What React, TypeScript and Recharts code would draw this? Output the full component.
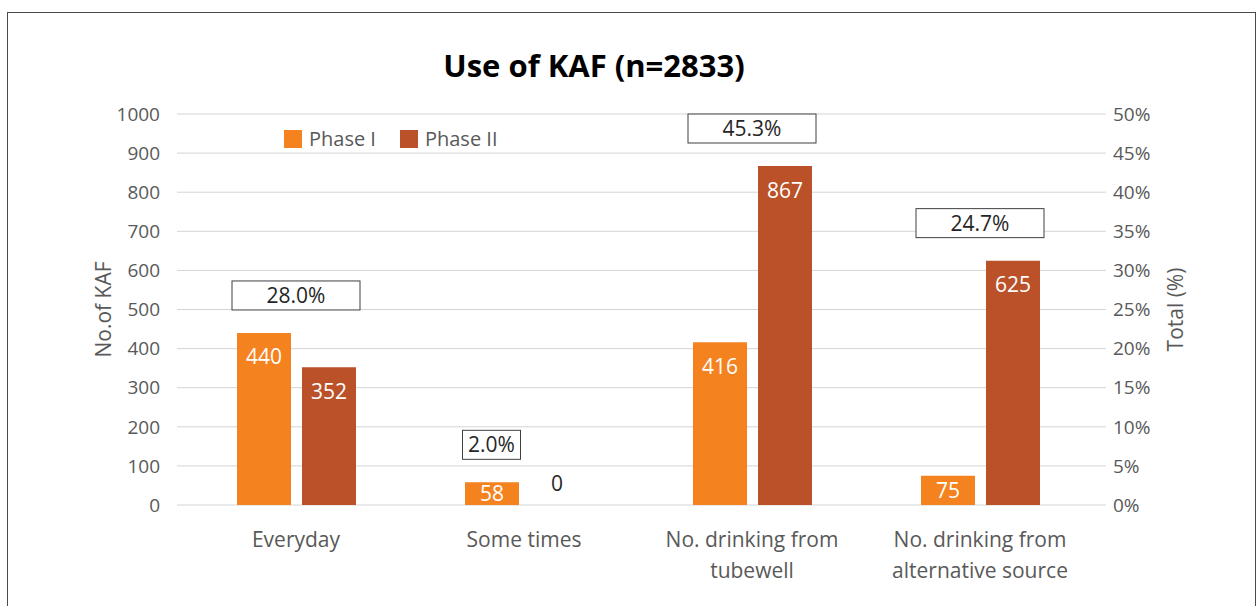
import {
  Bar,
  CartesianGrid,
  ComposedChart,
  LabelList,
  Legend,
  Line,
  XAxis,
  YAxis,
} from 'recharts';

const categories = [
  'Everyday',
  'Some times',
  'No. drinking from tubewell',
  'No. drinking from alternative source',
];
const phaseOne = [440, 58, 416, 75];
const phaseTwo = [352, 0, 867, 625];
const totalPct = [28.0, 2.0, 45.3, 24.7];
const countTicks = [0, 100, 200, 300, 400, 500, 600, 700, 800, 900, 1000];
const pctTicks = [0, 5, 10, 15, 20, 25, 30, 35, 40, 45, 50];

const ORANGE = '#F4821F';
const RUST = '#BB5128';
const GREY = '#595959';
const FONT = '"Open Sans", "Noto Sans", sans-serif';
const BAR_W = 54;
const BAR_GAP = 11;

const data = categories.map((name, i) => ({
  name,
  p1: phaseOne[i],
  p2: phaseTwo[i],
  pct: totalPct[i],
  peak: Math.max(phaseOne[i], phaseTwo[i]),
}));

function wrap(text: string, max = 18) {
  const lines: string[] = [];
  let cur = '';
  for (const w of text.split(' ')) {
    const next = cur ? cur + ' ' + w : w;
    if (next.length > max && cur) {
      lines.push(cur);
      cur = w;
    } else cur = next;
  }
  if (cur) lines.push(cur);
  return lines;
}

function CategoryTick({ x, y, payload }: any) {
  const lines = wrap(payload.value);
  return (
    <text x={x} y={y} textAnchor="middle" fill={GREY} fontSize={21}>
      {lines.map((l, i) => (
        <tspan key={i} x={x} y={y + 34 + i * 31}>
          {l}
        </tspan>
      ))}
    </text>
  );
}

function BarValue({ x, y, width, height, value }: any) {
  if (!value) return null;
  const mid = y + Math.min(24, height / 2);
  return (
    <text x={x + width / 2} y={mid + 7.5} textAnchor="middle" fill="#fff" fontSize={21}>
      {value}
    </text>
  );
}

// zero-height Phase II bars get no rect, so their "0" is drawn from the Phase I neighbour
function ZeroSibling({ x, y, width, height, value }: any) {
  if (value !== 0) return null;
  const cx = x + width + BAR_GAP + width / 2;
  const base = y + height;
  return (
    <text x={cx} y={base - 14} textAnchor="middle" fill="#262626" fontSize={21}>
      0
    </text>
  );
}

// percentage box sits above the taller bar of each group
function PctBox({ x, y, value, index }: any) {
  let shift = 0;
  if (phaseTwo[index] === 0) shift = -(BAR_W + BAR_GAP) / 2;
  else if (phaseOne[index] === 0) shift = (BAR_W + BAR_GAP) / 2;
  const w = value < 10 ? 58 : 128;
  const h = 29;
  const cx = x + shift;
  const top = y - 23 - h;
  return (
    <g>
      <rect x={cx - w / 2} y={top} width={w} height={h} fill="#fff" stroke="#404040" strokeWidth={1} />
      <text x={cx} y={top + h / 2 + 7.5} textAnchor="middle" fill="#262626" fontSize={21}>
        {value.toFixed(1)}%
      </text>
    </g>
  );
}

function PhaseLegend() {
  const items = [
    { label: 'Phase I', color: ORANGE },
    { label: 'Phase II', color: RUST },
  ];
  return (
    <div style={{ display: 'flex', alignItems: 'center', fontSize: 20, lineHeight: '20px', color: GREY }}>
      {items.map((it, i) => (
        <div key={it.label} style={{ display: 'flex', alignItems: 'center', marginLeft: i ? 24 : 0 }}>
          <span style={{ width: 18, height: 18, background: it.color, display: 'inline-block', marginRight: 7 }} />
          <span>{it.label}</span>
        </div>
      ))}
    </div>
  );
}

export default function App() {
  return (
    <div style={{ position: 'relative', width: 1258, height: 606, fontFamily: FONT, overflow: 'hidden' }}>
      <style>{'body{margin:0}'}</style>
      <div
        style={{
          position: 'absolute',
          left: 7,
          top: 12,
          width: 1249,
          height: 640,
          border: '1.5px solid #4a4a4a',
          boxSizing: 'border-box',
        }}
      />
      <div
        style={{
          position: 'absolute',
          left: 594,
          top: 48,
          transform: 'translateX(-50%)',
          fontSize: 31,
          lineHeight: '35px',
          fontWeight: 700,
          color: '#000',
          whiteSpace: 'nowrap',
        }}
      >
        Use of KAF (n=2833)
      </div>
      <ComposedChart
        width={1258}
        height={606}
        data={data}
        margin={{ top: 114, right: 72, bottom: 41, left: 80 }}
        barGap={BAR_GAP}
      >
        <CartesianGrid yAxisId="left" vertical={false} stroke="#d4d4d4" />
        <XAxis
          dataKey="name"
          axisLine={false}
          tickLine={false}
          interval={0}
          height={60}
          padding={{ left: 5, right: 12 }}
          tick={<CategoryTick />}
        />
        <YAxis
          yAxisId="left"
          width={97}
          domain={[0, 1000]}
          ticks={countTicks}
          axisLine={false}
          tickLine={false}
          tickSize={0}
          tickMargin={17}
          tick={{ fill: GREY, fontSize: 19 }}
          label={{
            content: ({ viewBox }: any) => {
              const cx = viewBox.x + 23;
              const cy = viewBox.y + viewBox.height / 2;
              return (
                <text x={cx} y={cy} transform={`rotate(-90 ${cx} ${cy})`} textAnchor="middle" dominantBaseline="central" fill={GREY} fontSize={21}>
                  No.of KAF
                </text>
              );
            },
          }}
        />
        <YAxis
          yAxisId="right"
          orientation="right"
          width={80}
          domain={[0, 50]}
          ticks={pctTicks}
          tickFormatter={(v: number) => `${v}%`}
          axisLine={false}
          tickLine={false}
          tickSize={0}
          tickMargin={7}
          tick={{ fill: GREY, fontSize: 19 }}
          label={{
            content: ({ viewBox }: any) => {
              const cx = viewBox.x + 69;
              const cy = viewBox.y + viewBox.height / 2;
              return (
                <text x={cx} y={cy} transform={`rotate(-90 ${cx} ${cy})`} textAnchor="middle" dominantBaseline="central" fill={GREY} fontSize={21}>
                  Total (%)
                </text>
              );
            },
          }}
        />
        <Legend
          layout="horizontal"
          verticalAlign="middle"
          align="center"
          content={<PhaseLegend />}
          wrapperStyle={{ top: 129, left: 284, width: 'auto', height: 'auto' }}
        />
        <Bar yAxisId="left" dataKey="p1" name="Phase I" fill={ORANGE} barSize={BAR_W} isAnimationActive={false}>
          <LabelList dataKey="p1" content={<BarValue />} />
          <LabelList dataKey="p2" content={<ZeroSibling />} />
        </Bar>
        <Bar yAxisId="left" dataKey="p2" name="Phase II" fill={RUST} barSize={BAR_W} isAnimationActive={false}>
          <LabelList dataKey="p2" content={<BarValue />} />
        </Bar>
        <Line
          yAxisId="right"
          dataKey="pct"
          stroke="none"
          dot={false}
          activeDot={false}
          legendType="none"
          isAnimationActive={false}
        />
        <Line
          yAxisId="left"
          dataKey="peak"
          stroke="none"
          dot={false}
          activeDot={false}
          legendType="none"
          isAnimationActive={false}
        >
          <LabelList dataKey="pct" content={<PctBox />} />
        </Line>
      </ComposedChart>
    </div>
  );
}
